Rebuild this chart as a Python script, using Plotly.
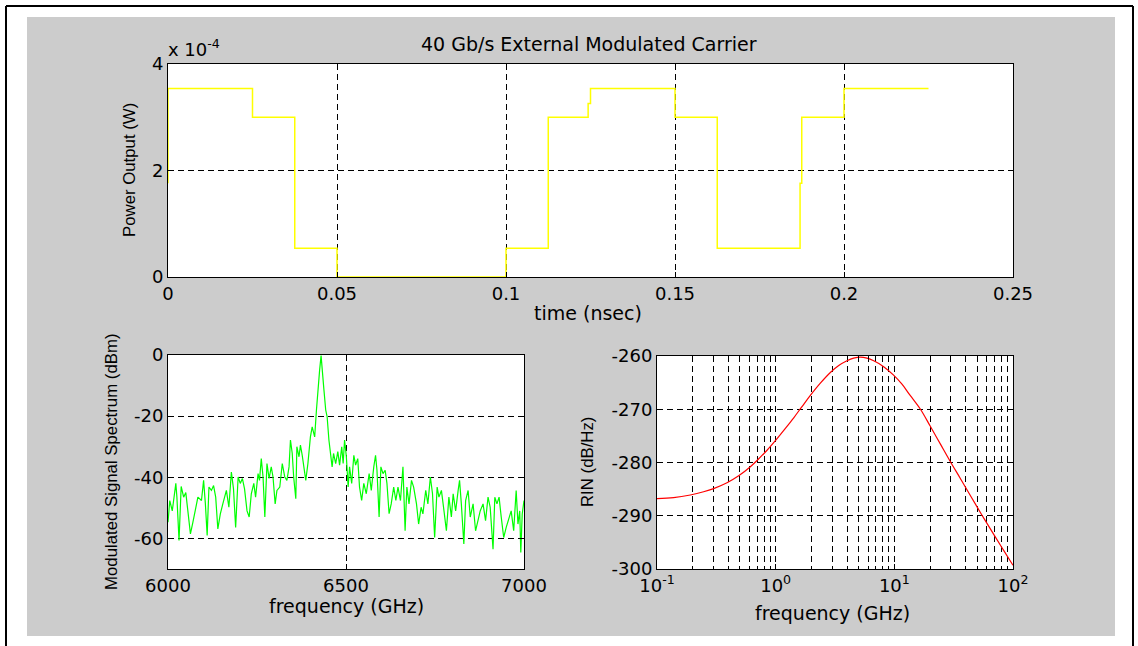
import plotly.graph_objects as go

W, H = 1138, 646

# ---- top panel: modulated carrier power vs time ----
time_ns = [0, 0, 0.025, 0.0375, 0.05, 0.1, 0.1125, 0.1243, 0.125, 0.15,
           0.1625, 0.187, 0.1875, 0.2, 0.225]
power_w = [1.76e-4, 3.54e-4, 3.0e-4, 0.54e-4, 0.0, 0.54e-4, 3.0e-4, 3.26e-4,
           3.54e-4, 3.0e-4, 0.54e-4, 1.76e-4, 3.0e-4, 3.54e-4, 3.54e-4]
time_ticks = [0, 0.05, 0.1, 0.15, 0.2, 0.25]
time_tick_labels = ["0", "0.05", "0.1", "0.15", "0.2", "0.25"]
power_ticks = [0, 2e-4, 4e-4]
power_tick_labels = ["0", "2", "4"]

# ---- bottom-left panel: modulated signal spectrum ----
spec_freq_ghz = [
    6000, 6005, 6012, 6022, 6025, 6031, 6037, 6044, 6050, 6056, 6063, 6070,
    6078, 6084, 6094, 6100, 6105, 6110, 6115, 6122, 6128, 6134, 6140, 6147,
    6154, 6164, 6171, 6178, 6184, 6190, 6197, 6203, 6209, 6215, 6222, 6228,
    6234, 6241, 6246, 6253, 6257, 6262, 6267, 6272, 6278, 6284, 6290, 6295,
    6301, 6306, 6314, 6321, 6328, 6334, 6340, 6344, 6349, 6353, 6359, 6362,
    6368, 6372, 6377, 6384, 6387, 6393, 6400, 6405, 6412, 6417, 6422, 6426,
    6430, 6434, 6438, 6443, 6447, 6452, 6456, 6461, 6465, 6471, 6477, 6482,
    6488, 6492, 6496, 6501, 6506, 6510, 6516, 6522, 6527, 6533, 6538, 6544,
    6550, 6557, 6565, 6571, 6578, 6583, 6587, 6593, 6598, 6604, 6610, 6615,
    6621, 6627, 6634, 6640, 6646, 6653, 6660, 6666, 6671, 6677, 6684, 6690,
    6698, 6704, 6711, 6716, 6724, 6730, 6737, 6743, 6749, 6756, 6761, 6768,
    6774, 6782, 6789, 6796, 6801, 6808, 6815, 6819, 6824, 6831, 6836, 6843,
    6849, 6857, 6864, 6871, 6877, 6885, 6892, 6899, 6905, 6913, 6918, 6924,
    6930, 6936, 6943, 6950, 6958, 6964, 6971, 6978, 6983, 6988, 6991, 6995,
    7000,
]
spec_dbm = [
    -54.7, -47.6, -51.0, -42.0, -46.5, -60.7, -43.0, -46.5, -45.0, -51.0, -58.5, -54.7,
    -49.8, -46.5, -47.6, -41.0, -48.7, -59.0, -43.2, -44.3, -42.7, -46.5, -56.9, -52.0,
    -48.7, -44.3, -49.8, -38.3, -43.8, -56.4, -39.9, -42.0, -40.4, -43.8, -51.0, -53.0,
    -45.4, -42.0, -46.5, -38.8, -41.0, -33.9, -39.9, -53.0, -35.5, -40.4, -36.6, -39.9,
    -48.7, -44.3, -43.2, -35.5, -39.9, -41.0, -36.6, -27.8, -32.2, -39.9, -47.0, -30.0,
    -33.3, -29.5, -32.8, -37.7, -41.0, -35.5, -26.8, -23.5, -26.8, -18.0, -9.2, -4.8,
    -0.2, -7.0, -11.4, -18.0, -20.2, -27.8, -31.1, -36.6, -32.2, -35.5, -31.6, -36.0,
    -30.0, -35.5, -27.8, -33.3, -43.2, -36.6, -42.0, -32.8, -36.0, -33.9, -43.2, -47.6,
    -42.0, -45.4, -38.8, -44.3, -36.6, -32.8, -37.7, -53.0, -36.6, -38.8, -37.7, -42.0,
    -51.9, -48.7, -43.2, -47.6, -43.2, -47.6, -36.6, -57.5, -43.2, -48.7, -41.0, -43.2,
    -48.7, -55.3, -49.8, -52.0, -44.3, -48.7, -39.9, -45.4, -59.7, -43.2, -46.5, -44.3,
    -49.8, -57.5, -46.5, -53.0, -45.4, -51.0, -44.3, -41.0, -48.7, -61.8, -47.6, -44.3,
    -53.0, -48.7, -57.5, -54.2, -51.0, -48.7, -54.2, -46.5, -49.8, -63.5, -46.5, -48.7,
    -46.5, -53.0, -59.7, -56.4, -53.0, -51.0, -57.5, -44.3, -55.3, -51.0, -64.6, -52.0,
    -47.6,
]
spec_x_ticks = [6000, 6500, 7000]
spec_x_tick_labels = ["6000", "6500", "7000"]
spec_y_ticks = [-60, -40, -20, 0]
spec_y_tick_labels = ["-60", "-40", "-20", "0"]

# ---- bottom-right panel: relative intensity noise ----
rin_freq_ghz = [0.1, 0.138, 0.191, 0.247, 0.300, 0.389, 0.488, 0.612, 0.743, 0.846,
                0.994, 1.206, 1.42, 1.667, 1.96, 2.38, 2.89, 3.40, 3.99, 4.54,
                5.17, 5.88, 6.70, 8.13, 9.86, 11.6, 13.6, 16.6, 20.1, 24.4,
                29.6, 36.0, 43.7, 54.8, 68.8, 83.4, 100]
rin_db_hz = [-286.8, -286.6, -286.1, -285.5, -284.9, -283.8, -282.5, -280.8, -279.0, -277.7,
             -275.9, -273.6, -271.6, -269.5, -267.4, -265.1, -263.1, -261.8, -260.9, -260.4,
             -260.2, -260.4, -260.9, -262.0, -263.6, -265.3, -267.4, -270.0, -273.2, -276.5,
             -279.8, -283.0, -286.2, -289.9, -293.5, -296.5, -299.3]
rin_x_ticks = [0.1, 1, 10, 100]
rin_x_tick_labels = ["10<sup>-1</sup>", "10<sup>0</sup>", "10<sup>1</sup>", "10<sup>2</sup>"]
rin_minor_ticks = [m * d for d in (0.1, 1, 10) for m in range(2, 10)]
rin_y_ticks = [-300, -290, -280, -270, -260]
rin_y_tick_labels = ["-300", "-290", "-280", "-270", "-260"]

TICK_FONT = dict(family="DejaVu Sans", size=18, color="black")
LABEL_FONT = dict(family="DejaVu Sans", size=19, color="black")
VLABEL_FONT = dict(family="Liberation Sans", size=16.8, color="black")
PANEL_GRAY = "#cccccc"


def px(x):
    return x / W


def py(y):
    return 1 - y / H


def axis(domain, **kw):
    base = dict(
        domain=domain, showline=True, linecolor="black", linewidth=1,
        mirror="ticks", ticks="inside", ticklen=5, tickcolor="black",
        showgrid=True, gridcolor="black", gridwidth=1, griddash="6px,4px",
        zeroline=False, tickfont=TICK_FONT, automargin=False, fixedrange=True,
        tickmode="array",
    )
    base.update(kw)
    return base


fig = go.Figure()

fig.add_trace(go.Scatter(
    x=time_ns, y=power_w, mode="lines", line=dict(color="#ffff00", width=1.5, shape="hv"),
    xaxis="x", yaxis="y", showlegend=False, hoverinfo="skip",
))
fig.add_trace(go.Scatter(
    x=spec_freq_ghz, y=spec_dbm, mode="lines", line=dict(color="#00ff00", width=1.2),
    xaxis="x2", yaxis="y2", showlegend=False, hoverinfo="skip",
))
fig.add_trace(go.Scatter(
    x=rin_freq_ghz, y=rin_db_hz, mode="lines",
    line=dict(color="#ff0000", width=1.2, shape="spline", smoothing=1.0),
    xaxis="x3", yaxis="y3", showlegend=False, hoverinfo="skip",
))

layout = dict(
    width=W, height=H, margin=dict(l=0, r=0, t=0, b=0),
    paper_bgcolor=PANEL_GRAY, plot_bgcolor="white", showlegend=False,
    xaxis=axis([px(168), px(1013)], anchor="y", range=[0, 0.25],
               tickvals=time_ticks, ticktext=time_tick_labels),
    yaxis=axis([py(277), py(64)], anchor="x", range=[0, 4e-4],
               tickvals=power_ticks, ticktext=power_tick_labels),
    xaxis2=axis([px(168), px(524)], anchor="y2", range=[6000, 7000],
                tickvals=spec_x_ticks, ticktext=spec_x_tick_labels),
    yaxis2=axis([py(569), py(355)], anchor="x2", range=[-70, 0],
                tickvals=spec_y_ticks, ticktext=spec_y_tick_labels),
    xaxis3=axis([px(657), px(1013)], anchor="y3", type="log", range=[-1, 2],
                tickvals=rin_x_ticks, ticktext=rin_x_tick_labels,
                minor=dict(tickmode="array", tickvals=rin_minor_ticks, ticks="inside",
                           ticklen=3, tickcolor="black", showgrid=True,
                           gridcolor="black", gridwidth=1, griddash="6px,4px")),
    yaxis3=axis([py(569), py(356)], anchor="x3", range=[-300, -260],
                tickvals=rin_y_ticks, ticktext=rin_y_tick_labels),
)

# white surround and black frame around the gray figure panel
white_strips = [(0, 0, W, 17), (0, 636, W, H), (0, 0, 27, H), (1115, 0, W, H)]
shapes = [
    dict(type="rect", xref="paper", yref="paper", x0=px(a), x1=px(c), y0=py(d), y1=py(b),
         fillcolor="white", line=dict(width=0), layer="below")
    for a, b, c, d in white_strips
]
for x0, y0, x1, y1 in [(6, 6, 1133, 6), (6, 6, 6, H), (1133, 6, 1133, H)]:
    shapes.append(dict(type="line", xref="paper", yref="paper", x0=px(x0), x1=px(x1),
                       y0=py(y0), y1=py(y1), line=dict(color="black", width=2)))
layout["shapes"] = shapes


def note(text, x, y, font, angle=0, xanchor="center", yanchor="middle"):
    return dict(text=text, x=px(x), y=py(y), xref="paper", yref="paper",
                showarrow=False, font=font, textangle=angle,
                xanchor=xanchor, yanchor=yanchor)


layout["annotations"] = [
    note("40 Gb/s External Modulated Carrier", 589, 44, LABEL_FONT),
    note("x 10<sup>-4</sup>", 166, 48, dict(family="DejaVu Sans", size=18, color="black"),
         xanchor="left"),
    note("time (nsec)", 588, 313, LABEL_FONT),
    note("Power Output (W)", 130, 170, VLABEL_FONT, angle=-90),
    note("frequency (GHz)", 346, 606, LABEL_FONT),
    note("Modulated Signal Spectrum (dBm)", 111, 462, VLABEL_FONT, angle=-90),
    note("frequency (GHz)", 832, 613, LABEL_FONT),
    note("RIN (dB/Hz)", 587, 462, VLABEL_FONT, angle=-90),
]

fig.update_layout(**layout)
fig.write_html("out.html")
